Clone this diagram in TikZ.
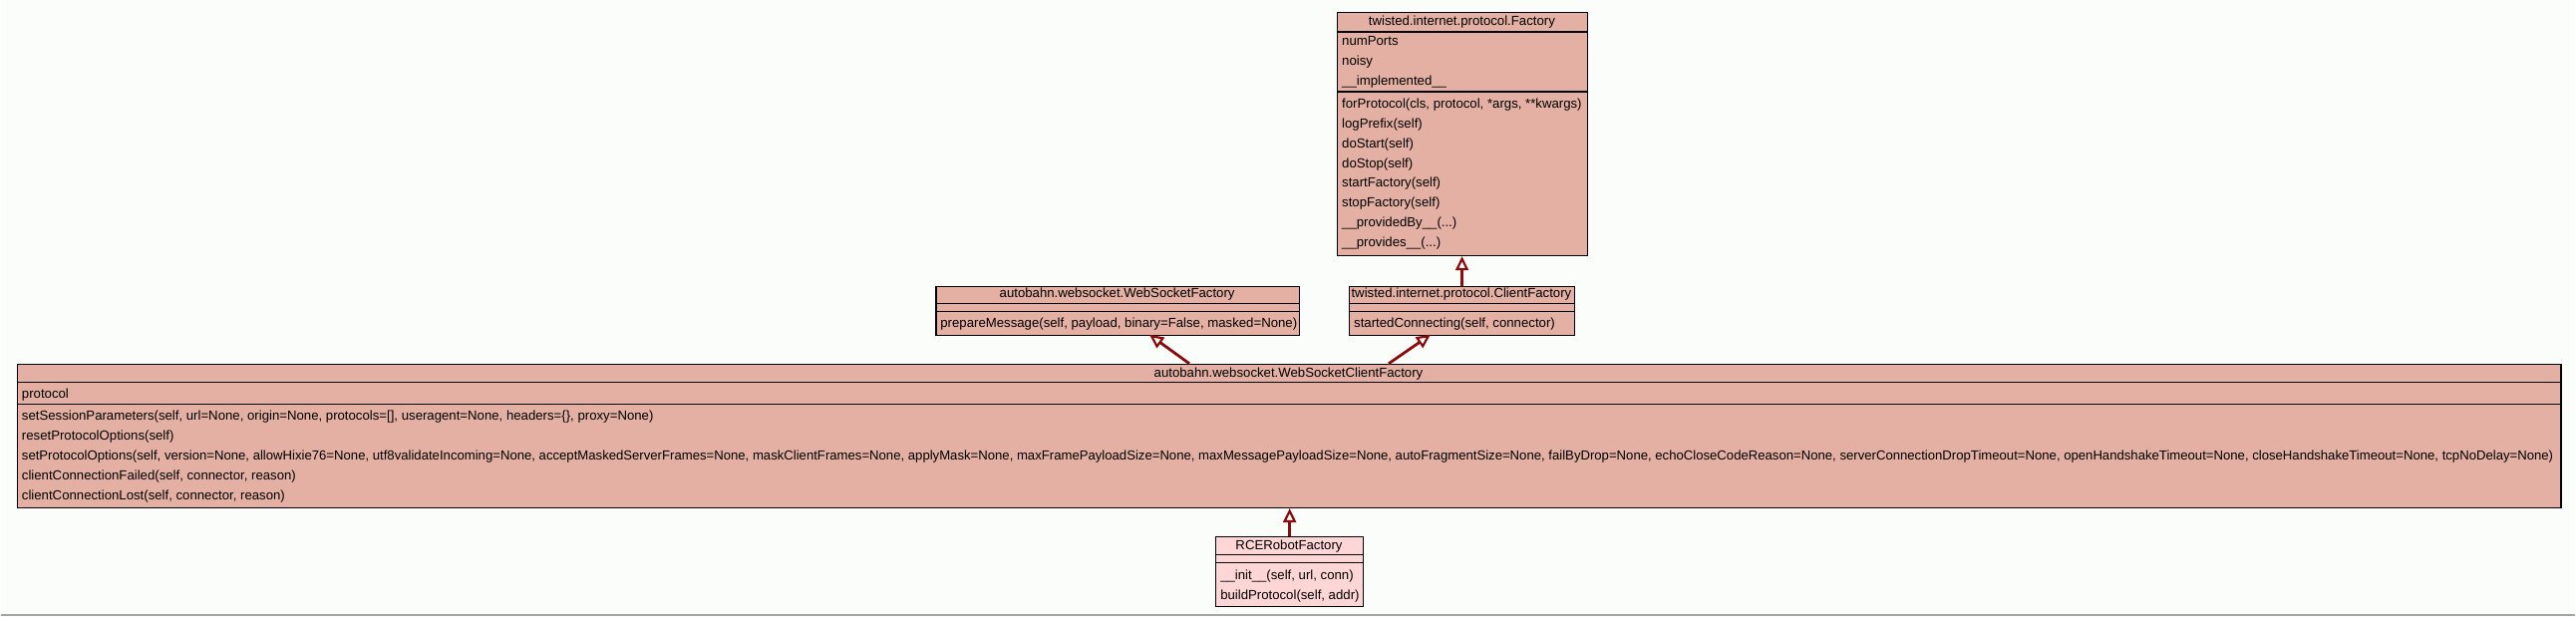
\documentclass[tikz,border=0pt]{standalone}
\usepackage{fontspec}
\setmainfont{Liberation Sans}
\usetikzlibrary{arrows.meta}
\definecolor{bgcol}{RGB}{251,253,250}
\definecolor{clsfill}{RGB}{227,176,163}
\definecolor{leaffill}{RGB}{255,214,214}
\definecolor{inhcol}{RGB}{136,12,12}
\definecolor{rulecol}{RGB}{165,165,165}
\tikzset{
  clsbox/.style={draw=black, line width=1.3pt, fill=clsfill, inner sep=0pt, anchor=north west},
  leafbox/.style={clsbox, fill=leaffill},
  sepline/.style={draw=black, line width=1.3pt},
  txt/.style={inner sep=0pt, anchor=base west, font=\fontsize{13.2}{15}\selectfont},
  ttl/.style={inner sep=0pt, anchor=base, font=\fontsize{13.2}{15}\selectfont},
  inh/.style={draw=inhcol, line width=2.8pt, -{Triangle[open, length=14pt, width=13pt, line width=2.2pt, fill=bgcol]}},
}
\begin{document}
\begin{tikzpicture}[x=1pt,y=-1pt]
\fill[bgcol] (0,0) rectangle (2584,619);
\draw[rulecol, line width=1.5pt] (0,617.5) -- (2584,617.5);

% twisted.internet.protocol.Factory
\node[clsbox, minimum width=251pt, minimum height=244pt] (factory) at (1341,12) {};
\draw[sepline] (1341,32) -- (1592,32);
\draw[sepline] (1341,92) -- (1592,92);
\node[ttl] (factory-t) at (1466.5,25.5) {twisted.internet.protocol.Factory};
\node[txt] (factory-a1) at (1346,45.5) {numPorts};
\node[txt] (factory-a2) at (1346,65.5) {noisy};
\node[txt] (factory-a3) at (1346,85.5) {\_\_implemented\_\_};
\node[txt] (factory-m1) at (1346,108.5) {forProtocol(cls, protocol, *args, **kwargs)};
\node[txt] (factory-m2) at (1346,128.4) {logPrefix(self)};
\node[txt] (factory-m3) at (1346,148.3) {doStart(self)};
\node[txt] (factory-m4) at (1346,168.2) {doStop(self)};
\node[txt] (factory-m5) at (1346,188.1) {startFactory(self)};
\node[txt] (factory-m6) at (1346,208.0) {stopFactory(self)};
\node[txt] (factory-m7) at (1346,227.9) {\_\_providedBy\_\_(...)};
\node[txt] (factory-m8) at (1346,247.8) {\_\_provides\_\_(...)};

% autobahn.websocket.WebSocketFactory
\node[clsbox, minimum width=365pt, minimum height=49pt] (wsf) at (938,287) {};
\draw[sepline] (938,305) -- (1303,305);
\draw[sepline] (938,313) -- (1303,313);
\node[ttl] (wsf-t) at (1120.5,298.5) {autobahn.websocket.WebSocketFactory};
\node[txt] (wsf-m1) at (943,328.5) {prepareMessage(self, payload, binary=False, masked=None)};

% twisted.internet.protocol.ClientFactory
\node[clsbox, minimum width=226pt, minimum height=49pt] (cf) at (1353,287) {};
\draw[sepline] (1353,305) -- (1579,305);
\draw[sepline] (1353,313) -- (1579,313);
\node[ttl] (cf-t) at (1466,298.5) {twisted.internet.protocol.ClientFactory};
\node[txt] (cf-m1) at (1358,328.5) {startedConnecting(self, connector)};

% autobahn.websocket.WebSocketClientFactory
\node[clsbox, minimum width=2553pt, minimum height=144pt] (wscf) at (16,365) {};
\draw[sepline] (16,384) -- (2569,384);
\draw[sepline] (16,406) -- (2569,406);
\node[ttl] (wscf-t) at (1292.5,378.5) {autobahn.websocket.WebSocketClientFactory};
\node[txt] (wscf-a1) at (21,399.5) {protocol};
\node[txt] (wscf-m1) at (21,421.5) {setSessionParameters(self, url=None, origin=None, protocols=[], useragent=None, headers=\{\}, proxy=None)};
\node[txt] (wscf-m2) at (21,441.5) {resetProtocolOptions(self)};
\node[txt] (wscf-m3) at (21,461.5) {\resizebox{2541pt}{\height}{setProtocolOptions(self, version=None, allowHixie76=None, utf8validateIncoming=None, acceptMaskedServerFrames=None, maskClientFrames=None, applyMask=None, maxFramePayloadSize=None, maxMessagePayloadSize=None, autoFragmentSize=None, failByDrop=None, echoCloseCodeReason=None, serverConnectionDropTimeout=None, openHandshakeTimeout=None, closeHandshakeTimeout=None, tcpNoDelay=None)}};
\node[txt] (wscf-m4) at (21,481.5) {clientConnectionFailed(self, connector, reason)};
\node[txt] (wscf-m5) at (21,501.5) {clientConnectionLost(self, connector, reason)};

% RCERobotFactory
\node[leafbox, minimum width=148pt, minimum height=70pt] (rce) at (1219,538) {};
\draw[sepline] (1219,557) -- (1367,557);
\draw[sepline] (1219,565) -- (1367,565);
\node[ttl] (rce-t) at (1293,551.5) {RCERobotFactory};
\node[txt] (rce-m1) at (1224,581.5) {\_\_init\_\_(self, url, conn)};
\node[txt] (rce-m2) at (1224,601.5) {buildProtocol(self, addr)};

% connection points
\coordinate (wscf-p1) at (1193,365);
\coordinate (wsf-p1) at (1153,336);
\coordinate (wscf-p2) at (1393,365);
\coordinate (cf-p1) at (1435,336);

% inheritance connectors
\draw[inh] (cf.north) -- (cf.north |- factory.south);
\draw[inh] (wscf-p1) -- (wsf-p1);
\draw[inh] (wscf-p2) -- (cf-p1);
\draw[inh] (rce.north) -- (rce.north |- wscf.south);
\end{tikzpicture}
\end{document}
